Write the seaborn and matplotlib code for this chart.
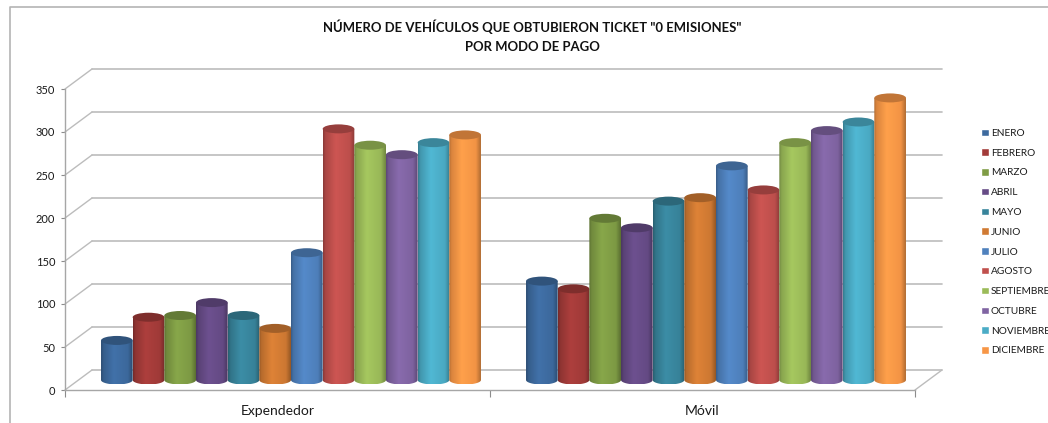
import numpy as np
import pandas as pd
import matplotlib
matplotlib.use('Agg')
import matplotlib.pyplot as plt
import seaborn as sns
from matplotlib.colors import LinearSegmentedColormap, to_rgb
from matplotlib.lines import Line2D
from matplotlib.patches import Ellipse, PathPatch
from matplotlib.path import Path
from matplotlib.transforms import Affine2D

# values
modos = ['Expendedor', 'Móvil']
meses = ['ENERO', 'FEBRERO', 'MARZO', 'ABRIL', 'MAYO', 'JUNIO', 'JULIO',
         'AGOSTO', 'SEPTIEMBRE', 'OCTUBRE', 'NOVIEMBRE', 'DICIEMBRE']
expendedor = [46, 73, 75, 90, 75, 60, 148, 292, 273, 262, 276, 285]
movil = [115, 106, 188, 177, 208, 212, 249, 221, 276, 290, 300, 328]
colores = ['#3D6A9E', '#A23B39', '#7F9C45', '#664B86', '#38849B', '#D07A33',
           '#4F81BD', '#C0504D', '#9BBB59', '#8064A2', '#4BACC6', '#F79646']
y_ticks = [0, 50, 100, 150, 200, 250, 300, 350]
titulo = 'NÚMERO DE VEHÍCULOS QUE OBTUBIERON TICKET "0 EMISIONES"\nPOR MODO DE PAGO'

W, H = 1048, 423

# fake 3D depth of the Excel chart, in data units
DEPTH_X = 27 / 425
DEPTH_Y = 20 / (301 / 350)
CAP_H = 9 / (301 / 350)

df = pd.DataFrame({
    'modo': [m for m in modos for _ in meses],
    'mes': meses * 2,
    'valor': expendedor + movil,
})

sns.set_theme(style='white')
plt.rcParams['font.family'] = ['Lato', 'DejaVu Sans']

fig = plt.figure(figsize=(W / 100, H / 100), dpi=100)
ax = fig.add_axes([65 / W, (H - 390) / H, 850 / W, 301 / H])
ax.patch.set_alpha(0)

sns.barplot(data=df, x='modo', y='valor', hue='mes', hue_order=meses, order=modos,
            palette=colores, width=0.894, gap=0, saturation=1, ax=ax, zorder=3)
ax.set_xlim(-0.5, 1.5)
ax.set_ylim(0, 350)
ax.set_xlabel('')
ax.set_ylabel('')

# walls: back gridlines, left wall diagonals, floor edge
line_c = '#bcbcbc'
for v in y_ticks:
    ax.plot([-0.5 + DEPTH_X, 1.5 + DEPTH_X], [v + DEPTH_Y, v + DEPTH_Y],
            color=line_c, lw=1.2, clip_on=False, zorder=1)
    ax.plot([-0.5, -0.5 + DEPTH_X], [v, v + DEPTH_Y],
            color=line_c, lw=1.0, clip_on=False, zorder=1)
ax.plot([1.5, 1.5 + DEPTH_X], [0, DEPTH_Y], color=line_c, lw=1.0, clip_on=False, zorder=1)

# bars sit in the middle of the depth
mid = Affine2D().translate(DEPTH_X / 2, DEPTH_Y / 2) + ax.transData

# turn each seaborn bar into a shaded cylinder
z = 3
for cont, color in zip(ax.containers, colores):
    rgb = np.array(to_rgb(color))
    cmap = LinearSegmentedColormap.from_list('cil', [
        (0.0, rgb * 0.72), (0.07, rgb * 0.88), (0.40, np.minimum(rgb * 1.07, 1)),
        (0.85, rgb * 0.98), (1.0, rgb * 0.72)])
    for bar in cont:
        x0, w, v = bar.get_x(), bar.get_width(), bar.get_height()
        z += 1
        bar.set_transform(mid)
        bar.set_visible(False)

        t = np.linspace(np.pi, 2 * np.pi, 40)
        xs = x0 + w / 2 + w / 2 * np.cos(t)
        ys = CAP_H / 2 * np.sin(t)
        verts = [(x0, v)] + list(zip(xs, ys)) + [(x0 + w, v), (x0, v)]
        clip = PathPatch(Path(verts), transform=mid)

        im = ax.imshow(np.linspace(0, 1, 64).reshape(1, -1), cmap=cmap, aspect='auto',
                       extent=(x0, x0 + w, -CAP_H / 2, v), zorder=z, interpolation='bilinear')
        im.set_transform(mid)
        im.set_clip_path(clip)
        ax.add_patch(Ellipse((x0 + w / 2, v), w, CAP_H, facecolor=rgb * 0.78,
                             edgecolor='none', transform=mid, zorder=z + 0.5))

ax.set_xlim(-0.5, 1.5)
ax.set_ylim(0, 350)

# axes
sns.despine(ax=ax, top=True, right=True)
for side in ['left', 'bottom']:
    ax.spines[side].set_color('#a6a6a6')
    ax.spines[side].set_linewidth(1.0)
ax.set_yticks(y_ticks)
ax.tick_params(axis='y', length=3, width=0.8, color='#8c8c8c', labelsize=8, pad=4,
               labelcolor='#1a1a1a', left=True)
ax.set_xticks([0, 1], modos)
ax.set_xticks([-0.5, 0.5, 1.5], minor=True)
ax.tick_params(axis='x', which='major', length=0, labelsize=10, pad=11, labelcolor='#1a1a1a')
ax.tick_params(axis='x', which='minor', length=5, width=0.8, color='#8c8c8c', bottom=True)

sns.move_legend(ax, 'upper left', bbox_to_anchor=(981 / W, (H - 128.5) / H),
                bbox_transform=fig.transFigure, title=None, frameon=False, fontsize=7.3,
                labelspacing=1.04, handlelength=0.75, handleheight=0.75,
                handletextpad=0.2, labelcolor='#1a1a1a', borderpad=0, borderaxespad=0)

fig.text(532 / W, (H - 36) / H, titulo, ha='center', va='center', fontsize=9.45,
         fontweight='bold', color='#111111', linespacing=1.7)

# chart area border, cut by the crop at right and bottom
fig.add_artist(Line2D([9.5 / W, 9.5 / W, 1], [0, (H - 7.5) / H, (H - 7.5) / H],
                      color='#b4b4b4', lw=1.2))

fig.savefig('out.png', dpi=100, facecolor='white')
